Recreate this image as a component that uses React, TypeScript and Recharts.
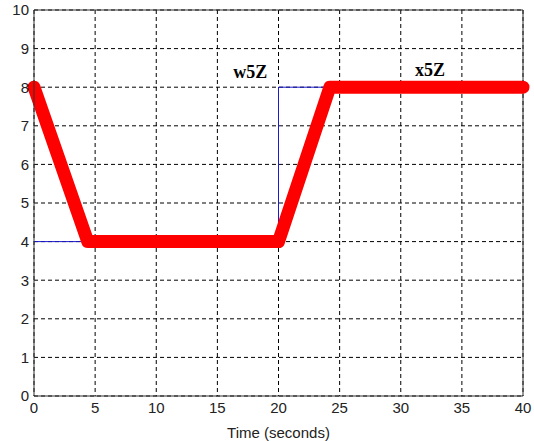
import {
  CartesianGrid,
  Line,
  LineChart,
  ReferenceDot,
  ReferenceLine,
  XAxis,
  YAxis,
} from "recharts";

// response (thick red) and command (thin blue), time in seconds
const responseTimes = [0, 4.4, 20, 24.2, 40];
const responseValues = [8, 4, 4, 8, 8];
const commandTimes = [0, 20, 20, 40];
const commandValues = [4, 4, 8, 8];

const xTicks = [0, 5, 10, 15, 20, 25, 30, 35, 40];
const yTicks = [0, 1, 2, 3, 4, 5, 6, 7, 8, 9, 10];

const notes = [
  { label: "w5Z", t: 17.7, v: 8.4 },
  { label: "x5Z", t: 32.4, v: 8.45 },
];

const response = responseTimes.map((t, i) => ({ t, v: responseValues[i] }));
const command = commandTimes.map((t, i) => ({ t, v: commandValues[i] }));

const tickStyle = { fontFamily: "Liberation Sans", fontSize: 15, fill: "#222" };

export default function App() {
  return (
    <div
      style={{
        position: "fixed",
        left: 0,
        top: 0,
        background: "#fff",
        width: 534,
        height: 441,
      }}
    >
      <LineChart
        width={534}
        height={441}
        margin={{ top: 10, right: 11, left: 0, bottom: 0 }}
      >
        <CartesianGrid stroke="#000" strokeDasharray="4 3" strokeWidth={1} />
        <XAxis
          type="number"
          dataKey="t"
          domain={[0, 40]}
          ticks={xTicks}
          height={45}
          tickLine={false}
          tickSize={2}
          tickMargin={4}
          stroke="#333"
          tick={tickStyle}
          label={{
            value: "Time (seconds)",
            position: "insideBottom",
            offset: 3,
            style: { fontFamily: "Liberation Sans", fontSize: 15, fill: "#222" },
          }}
        />
        <YAxis
          type="number"
          dataKey="v"
          domain={[0, 10]}
          ticks={yTicks}
          width={34}
          tickLine={false}
          tickSize={2}
          tickMargin={3}
          stroke="#333"
          tick={tickStyle}
        />
        <ReferenceLine y={10} stroke="#333" />
        <ReferenceLine x={40} stroke="#333" />
        <Line
          data={command}
          dataKey="v"
          type="linear"
          stroke="#1a1acc"
          strokeWidth={1}
          dot={false}
          isAnimationActive={false}
        />
        <Line
          data={response}
          dataKey="v"
          type="linear"
          stroke="#ff0000"
          strokeWidth={13}
          strokeLinecap="round"
          strokeLinejoin="round"
          dot={false}
          isAnimationActive={false}
        />
        {notes.map((n) => (
          <ReferenceDot
            key={n.label}
            x={n.t}
            y={n.v}
            r={0}
            stroke="none"
            fill="none"
            label={{
              value: n.label,
              position: "center",
              fill: "#000",
              fontSize: 18,
              fontWeight: "bold",
              fontFamily: "Liberation Serif",
            }}
          />
        ))}
      </LineChart>
    </div>
  );
}
